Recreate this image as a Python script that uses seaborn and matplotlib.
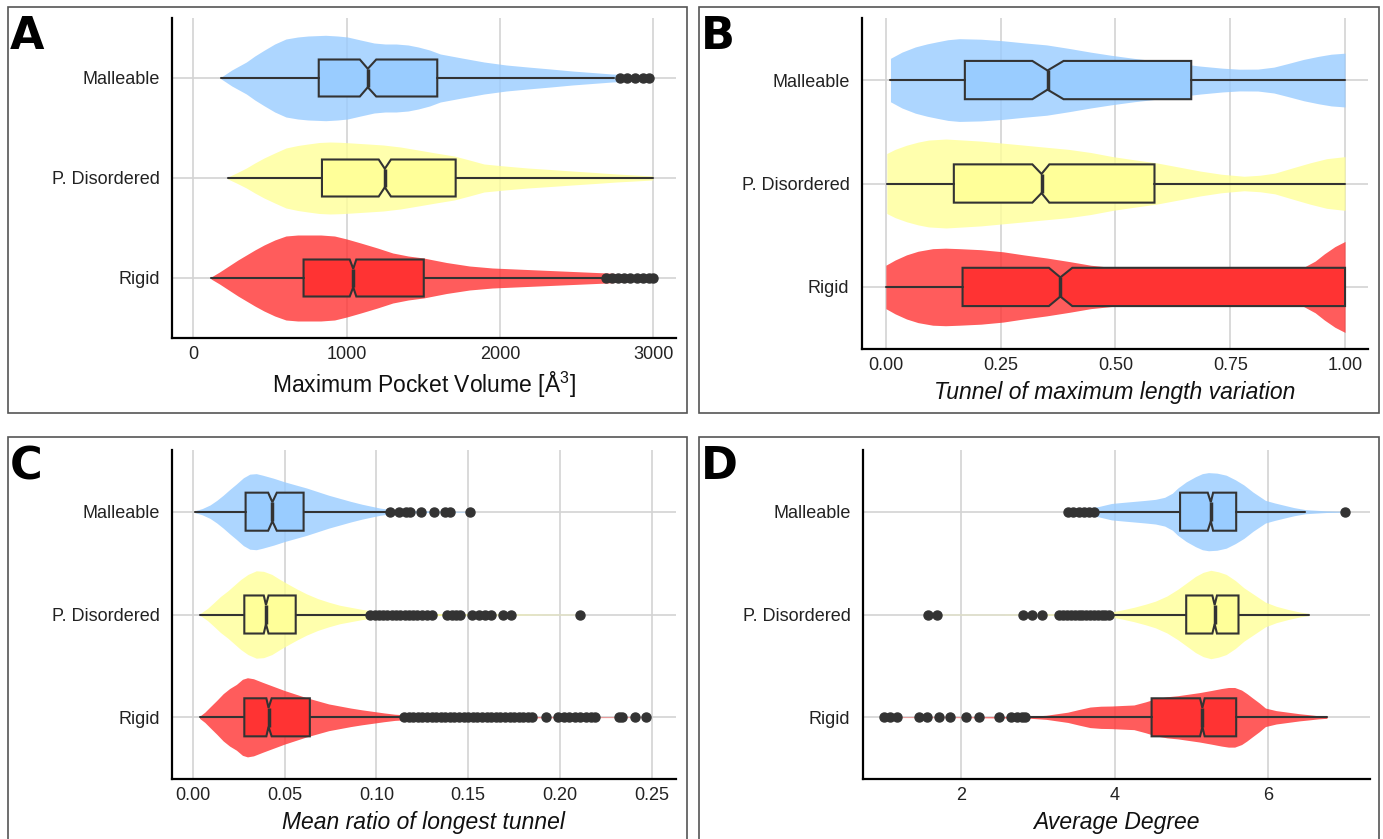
import matplotlib
matplotlib.use("Agg")
import matplotlib.pyplot as plt
from matplotlib.patches import Rectangle
import seaborn as sns

# ---------------- data ----------------
categories = ["Malleable", "P. Disordered", "Rigid"]
box_colors = ["#99CCFF", "#FFFF99", "#FF3333"]

# Panel A: Maximum Pocket Volume  (violin outline: x, half width in category units)
a_mall_vx = [181, 250, 345, 400, 460, 530, 603, 680, 747, 862, 940, 1005, 1090, 1178, 1250, 1322,
             1400, 1466, 1540, 1610, 1750, 1895, 2040, 2180, 2330, 2470, 2600, 2730, 2860, 2990]
a_mall_vw = [0.01, 0.08, 0.16, 0.22, 0.277, 0.34, 0.39, 0.41, 0.42, 0.427, 0.42, 0.41, 0.38, 0.35,
             0.34, 0.34, 0.33, 0.31, 0.28, 0.24, 0.20, 0.16, 0.13, 0.11, 0.09, 0.07, 0.055, 0.04, 0.03, 0.02]
a_pd_vx = [224, 280, 345, 400, 460, 530, 603, 680, 747, 820, 891, 960, 1036, 1140, 1238, 1350,
           1466, 1580, 1700, 1800, 1895, 2030, 2180, 2330, 2470, 2620, 2760, 2880, 2995]
a_pd_vw = [0.01, 0.05, 0.10, 0.15, 0.20, 0.25, 0.30, 0.325, 0.34, 0.355, 0.36, 0.357, 0.35, 0.34,
           0.33, 0.31, 0.28, 0.25, 0.22, 0.18, 0.14, 0.12, 0.10, 0.085, 0.07, 0.055, 0.04, 0.03, 0.02]
a_rig_vx = [115, 170, 230, 290, 345, 400, 460, 530, 603, 680, 747, 830, 920, 1000, 1091, 1200,
            1300, 1400, 1500, 1650, 1800, 1950, 2100, 2250, 2400, 2550, 2700, 2850, 3000]
a_rig_vw = [0.01, 0.06, 0.12, 0.18, 0.23, 0.28, 0.33, 0.38, 0.42, 0.43, 0.43, 0.43, 0.42, 0.39,
            0.35, 0.30, 0.25, 0.22, 0.20, 0.155, 0.12, 0.10, 0.09, 0.08, 0.07, 0.06, 0.05, 0.035, 0.02]
# whislo, q1, cilo, med, cihi, q3, whishi
a_mall_box = [181, 817, 1085, 1137, 1192, 1590, 2742]
a_pd_box = [224, 838, 1208, 1248, 1288, 1710, 2995]
a_rig_box = [115, 718, 1019, 1042, 1062, 1502, 2670]
a_mall_out = [2780, 2830, 2880, 2930, 2970]
a_pd_out = []
a_rig_out = [2690, 2730, 2770, 2810, 2850, 2890, 2930, 2970, 3000]

# Panel B: Tunnel of maximum length variation
b_mall_vx = [0.01, 0.035, 0.064, 0.09, 0.112, 0.135, 0.16, 0.207, 0.255, 0.30, 0.35, 0.40, 0.446,
             0.49, 0.54, 0.59, 0.637, 0.685, 0.733, 0.77, 0.81, 0.845, 0.876, 0.91, 0.943, 0.97, 1.0]
b_mall_vw = [0.21, 0.27, 0.32, 0.35, 0.37, 0.39, 0.40, 0.395, 0.38, 0.36, 0.34, 0.305, 0.27,
             0.24, 0.21, 0.185, 0.16, 0.135, 0.115, 0.105, 0.106, 0.125, 0.16, 0.20, 0.23, 0.25, 0.26]
b_pd_vx = [0.002, 0.02, 0.045, 0.07, 0.093, 0.131, 0.17, 0.207, 0.255, 0.303, 0.35, 0.398, 0.446,
           0.494, 0.54, 0.589, 0.637, 0.685, 0.73, 0.78, 0.815, 0.847, 0.885, 0.924, 0.96, 1.0]
b_pd_vw = [0.29, 0.33, 0.37, 0.40, 0.42, 0.43, 0.42, 0.41, 0.39, 0.37, 0.35, 0.33, 0.30,
           0.26, 0.23, 0.20, 0.16, 0.12, 0.09, 0.07, 0.08, 0.10, 0.15, 0.20, 0.24, 0.26]
b_rig_vx = [0.0, 0.02, 0.045, 0.07, 0.102, 0.13, 0.16, 0.207, 0.255, 0.30, 0.35, 0.40, 0.446, 0.49,
            0.54, 0.59, 0.637, 0.685, 0.733, 0.78, 0.83, 0.87, 0.91, 0.935, 0.955, 0.978, 1.0]
b_rig_vw = [0.21, 0.26, 0.31, 0.345, 0.37, 0.375, 0.37, 0.36, 0.34, 0.31, 0.28, 0.245, 0.21, 0.19,
            0.17, 0.15, 0.13, 0.115, 0.10, 0.095, 0.10, 0.13, 0.19, 0.25, 0.32, 0.39, 0.44]
b_mall_box = [0.01, 0.172, 0.319, 0.352, 0.387, 0.665, 1.0]
b_pd_box = [0.002, 0.148, 0.319, 0.339, 0.356, 0.585, 1.0]
b_rig_box = [0.0, 0.167, 0.355, 0.38, 0.406, 1.0, 1.0]
b_mall_out = []
b_pd_out = []
b_rig_out = []

# Panel C: Mean ratio of longest tunnel
c_mall_vx = [0.0012, 0.005, 0.0093, 0.013, 0.0165, 0.020, 0.0237, 0.0275, 0.031, 0.0345, 0.038,
             0.044, 0.05, 0.056, 0.062, 0.068, 0.074, 0.080, 0.086, 0.092, 0.098, 0.102, 0.106,
             0.112, 0.12, 0.135, 0.152]
c_mall_vw = [0.01, 0.03, 0.065, 0.11, 0.16, 0.215, 0.27, 0.33, 0.365, 0.37, 0.355,
             0.325, 0.29, 0.26, 0.23, 0.195, 0.16, 0.13, 0.10, 0.073, 0.05, 0.035, 0.025,
             0.016, 0.01, 0.005, 0.003]
c_pd_vx = [0.004, 0.008, 0.0117, 0.015, 0.019, 0.0225, 0.026, 0.030, 0.0345, 0.0385, 0.043,
           0.0475, 0.0524, 0.057, 0.062, 0.068, 0.074, 0.080, 0.086, 0.092, 0.098, 0.105,
           0.115, 0.13, 0.15, 0.17, 0.19, 0.211]
c_pd_vw = [0.01, 0.06, 0.12, 0.175, 0.23, 0.285, 0.34, 0.39, 0.425, 0.42, 0.39,
           0.34, 0.29, 0.245, 0.20, 0.155, 0.12, 0.09, 0.07, 0.05, 0.035, 0.022,
           0.014, 0.01, 0.007, 0.005, 0.003, 0.002]
c_rig_vx = [0.0036, 0.0065, 0.0093, 0.013, 0.0165, 0.020, 0.0237, 0.027, 0.0297, 0.033, 0.038,
            0.044, 0.05, 0.056, 0.062, 0.068, 0.074, 0.080, 0.086, 0.092, 0.098, 0.104, 0.11,
            0.12, 0.13, 0.15, 0.17, 0.19, 0.21, 0.247]
c_rig_vw = [0.01, 0.05, 0.10, 0.165, 0.23, 0.28, 0.32, 0.37, 0.385, 0.375, 0.34,
            0.30, 0.26, 0.225, 0.19, 0.16, 0.13, 0.11, 0.09, 0.073, 0.058, 0.043, 0.03,
            0.02, 0.012, 0.008, 0.006, 0.004, 0.003, 0.002]
c_mall_box = [0.0012, 0.0287, 0.041, 0.0433, 0.0457, 0.0603, 0.106]
c_pd_box = [0.004, 0.028, 0.0386, 0.0398, 0.0412, 0.056, 0.0955]
c_rig_box = [0.0036, 0.028, 0.040, 0.0412, 0.0429, 0.0637, 0.114]
c_mall_out = [0.1075, 0.1123, 0.1159, 0.1183, 0.1243, 0.1315, 0.1375, 0.1399, 0.1511]
c_pd_out = [0.0967, 0.099, 0.1013, 0.1036, 0.106, 0.1083, 0.1106, 0.113, 0.1153, 0.1176, 0.12,
            0.1223, 0.1246, 0.1275, 0.13, 0.1385, 0.141, 0.1435, 0.1455, 0.152, 0.156, 0.159,
            0.1625, 0.169, 0.1735, 0.211]
c_rig_out = [0.115, 0.1175, 0.12, 0.1225, 0.125, 0.1275, 0.13, 0.1325, 0.135, 0.1375, 0.14,
             0.1425, 0.145, 0.1475, 0.15, 0.1525, 0.155, 0.1575, 0.16, 0.1625, 0.165, 0.1675,
             0.17, 0.1725, 0.175, 0.1775, 0.18, 0.1825, 0.185, 0.1925, 0.199, 0.202, 0.205,
             0.208, 0.211, 0.214, 0.217, 0.219, 0.232, 0.234, 0.241, 0.247]

# Panel D: Average Degree
d_mall_vx = [3.39, 3.6, 3.79, 3.96, 4.1, 4.25, 4.4, 4.53, 4.65, 4.75, 4.82, 4.93, 5.05, 5.14, 5.22,
             5.33, 5.45, 5.57, 5.68, 5.8, 5.88, 5.96, 6.08, 6.19, 6.33, 6.48, 6.75, 6.99]
d_mall_vw = [0.01, 0.03, 0.05, 0.08, 0.09, 0.10, 0.11, 0.12, 0.14, 0.18, 0.23, 0.29, 0.34, 0.37, 0.38,
             0.375, 0.355, 0.31, 0.26, 0.19, 0.15, 0.11, 0.085, 0.065, 0.04, 0.02, 0.008, 0.004]
d_pd_vx = [1.57, 2.5, 3.2, 3.7, 3.96, 4.1, 4.25, 4.4, 4.53, 4.68, 4.82, 4.94, 5.05, 5.15, 5.25,
           5.35, 5.45, 5.57, 5.68, 5.82, 5.96, 6.1, 6.25, 6.4, 6.53]
d_pd_vw = [0.002, 0.002, 0.005, 0.01, 0.025, 0.045, 0.07, 0.10, 0.13, 0.18, 0.245, 0.31, 0.37, 0.41, 0.43,
           0.415, 0.39, 0.33, 0.26, 0.19, 0.12, 0.08, 0.05, 0.025, 0.01]
d_rig_vx = [1.0, 2.0, 2.87, 3.11, 3.25, 3.39, 3.53, 3.68, 3.82, 3.96, 4.1, 4.25, 4.4, 4.53, 4.68,
            4.82, 4.96, 5.1, 5.25, 5.39, 5.48, 5.56, 5.65, 5.72, 5.79, 5.88, 5.96, 6.1, 6.25,
            6.4, 6.53, 6.65, 6.76]
d_rig_vw = [0.002, 0.003, 0.008, 0.02, 0.035, 0.05, 0.075, 0.10, 0.108, 0.11, 0.115, 0.12, 0.15, 0.18, 0.20,
            0.21, 0.225, 0.24, 0.26, 0.28, 0.29, 0.29, 0.265, 0.23, 0.19, 0.14, 0.09, 0.065, 0.05,
            0.035, 0.025, 0.015, 0.01]
d_mall_box = [3.79, 4.85, 5.21, 5.25, 5.28, 5.58, 6.48]
d_pd_box = [3.99, 4.93, 5.27, 5.30, 5.33, 5.61, 6.53]
d_rig_box = [2.87, 4.48, 5.11, 5.14, 5.17, 5.58, 6.76]
d_mall_out = [3.39, 3.46, 3.53, 3.60, 3.67, 3.73, 6.99]
d_pd_out = [1.57, 1.69, 2.81, 2.93, 3.05, 3.28, 3.33, 3.38, 3.43, 3.48, 3.53, 3.58, 3.63,
            3.68, 3.73, 3.78, 3.83, 3.88, 3.93]
d_rig_out = [1.0, 1.08, 1.17, 1.46, 1.56, 1.71, 1.86, 2.06, 2.24, 2.50, 2.65, 2.73, 2.79, 2.83]

panels = [
    dict(letter="A", xlabel="Maximum Pocket Volume [Å$^{3}$]", italic=False,
         xlim=(-140, 3147), ticks=[0, 1000, 2000, 3000], labels=["0", "1000", "2000", "3000"],
         violins=[(a_mall_vx, a_mall_vw), (a_pd_vx, a_pd_vw), (a_rig_vx, a_rig_vw)],
         boxes=[a_mall_box, a_pd_box, a_rig_box], outliers=[a_mall_out, a_pd_out, a_rig_out],
         rect=[172, 18, 676, 338], frame=[8, 7, 687, 413]),
    dict(letter="B", xlabel="Tunnel of maximum length variation", italic=True,
         xlim=(-0.052, 1.050), ticks=[0, 0.25, 0.5, 0.75, 1.0],
         labels=["0.00", "0.25", "0.50", "0.75", "1.00"],
         violins=[(b_mall_vx, b_mall_vw), (b_pd_vx, b_pd_vw), (b_rig_vx, b_rig_vw)],
         boxes=[b_mall_box, b_pd_box, b_rig_box], outliers=[b_mall_out, b_pd_out, b_rig_out],
         rect=[862, 18, 1368, 349], frame=[699, 7, 1379, 413]),
    dict(letter="C", xlabel="Mean ratio of longest tunnel", italic=True,
         xlim=(-0.0114, 0.2632), ticks=[0, 0.05, 0.10, 0.15, 0.20, 0.25],
         labels=["0.00", "0.05", "0.10", "0.15", "0.20", "0.25"],
         violins=[(c_mall_vx, c_mall_vw), (c_pd_vx, c_pd_vw), (c_rig_vx, c_rig_vw)],
         boxes=[c_mall_box, c_pd_box, c_rig_box], outliers=[c_mall_out, c_pd_out, c_rig_out],
         rect=[172, 450, 676, 779], frame=[8, 437, 687, 880]),
    dict(letter="D", xlabel="Average Degree", italic=True,
         xlim=(0.727, 7.32), ticks=[2, 4, 6], labels=["2", "4", "6"],
         violins=[(d_mall_vx, d_mall_vw), (d_pd_vx, d_pd_vw), (d_rig_vx, d_rig_vw)],
         boxes=[d_mall_box, d_pd_box, d_rig_box], outliers=[d_mall_out, d_pd_out, d_rig_out],
         rect=[863, 450, 1370, 779], frame=[699, 437, 1379, 880]),
]

# ---------------- styling ----------------
sns.set_theme(style="whitegrid")
plt.rcParams["font.family"] = ["Liberation Sans", "DejaVu Sans"]
plt.rcParams["mathtext.fontset"] = "custom"
plt.rcParams["mathtext.rm"] = "Liberation Sans"

W, H = 1383, 839
fig = plt.figure(figsize=(W / 100, H / 100), dpi=100)
fig.patch.set_facecolor("white")

positions = [3, 2, 1]  # Malleable on top

for p in panels:
    x0, y0, x1, y1 = p["rect"]
    ax = fig.add_axes([x0 / W, 1 - y1 / H, (x1 - x0) / W, (y1 - y0) / H])
    ax.set_facecolor("white")

    for (vx, vw), pos, col in zip(p["violins"], positions, box_colors):
        lo = [pos - w for w in vw]
        hi = [pos + w for w in vw]
        ax.fill_between(vx, lo, hi, color=col, alpha=0.8, linewidth=0, zorder=2)

    stats = []
    for b, fl, lab in zip(p["boxes"], p["outliers"], categories):
        stats.append(dict(whislo=b[0], q1=b[1], cilo=b[2], med=b[3], cihi=b[4],
                          q3=b[5], whishi=b[6], fliers=fl, label=lab))
    bp = ax.bxp(stats, positions=positions, widths=0.37, orientation="horizontal",
                patch_artist=True, shownotches=True, showcaps=False, manage_ticks=False,
                boxprops=dict(edgecolor="#333333", linewidth=1.5),
                whiskerprops=dict(color="#333333", linewidth=1.5),
                medianprops=dict(color="#333333", linewidth=2.5),
                flierprops=dict(marker="o", markerfacecolor="#333333",
                                markeredgecolor="#333333", markersize=6.5, linestyle="none"),
                zorder=3)
    for patch, col in zip(bp["boxes"], box_colors):
        patch.set_facecolor(col)

    ax.set_xlim(*p["xlim"])
    ax.set_ylim(0.4, 3.6)
    ax.set_xticks(p["ticks"])
    ax.set_xticklabels(p["labels"])
    ax.set_yticks(positions)
    ax.set_yticklabels(categories)
    ax.tick_params(axis="both", length=0, labelsize=13, colors="#222222")
    ax.tick_params(axis="y", pad=9)
    ax.tick_params(axis="x", pad=6)
    ax.grid(True, color="#d3d3d3", linewidth=1.2)
    ax.set_axisbelow(True)
    for side in ["top", "right"]:
        ax.spines[side].set_visible(False)
    for side in ["left", "bottom"]:
        ax.spines[side].set_visible(True)
        ax.spines[side].set_color("black")
        ax.spines[side].set_linewidth(1.6)
    ax.set_xlabel(p["xlabel"], fontsize=16.5, style="italic" if p["italic"] else "normal",
                  color="#111111", labelpad=5)

    fx0, fy0, fx1, fy1 = p["frame"]
    fig.add_artist(Rectangle((fx0 / W, 1 - fy1 / H), (fx1 - fx0) / W, (fy1 - fy0) / H,
                             transform=fig.transFigure, fill=False,
                             edgecolor="#555555", linewidth=1.2))
    fig.text((fx0 + 2) / W, 1 - (fy0 + 8) / H, p["letter"], fontsize=32, fontweight="bold",
             family="DejaVu Sans", va="top", ha="left", color="black")

fig.savefig("out.png", dpi=100)
